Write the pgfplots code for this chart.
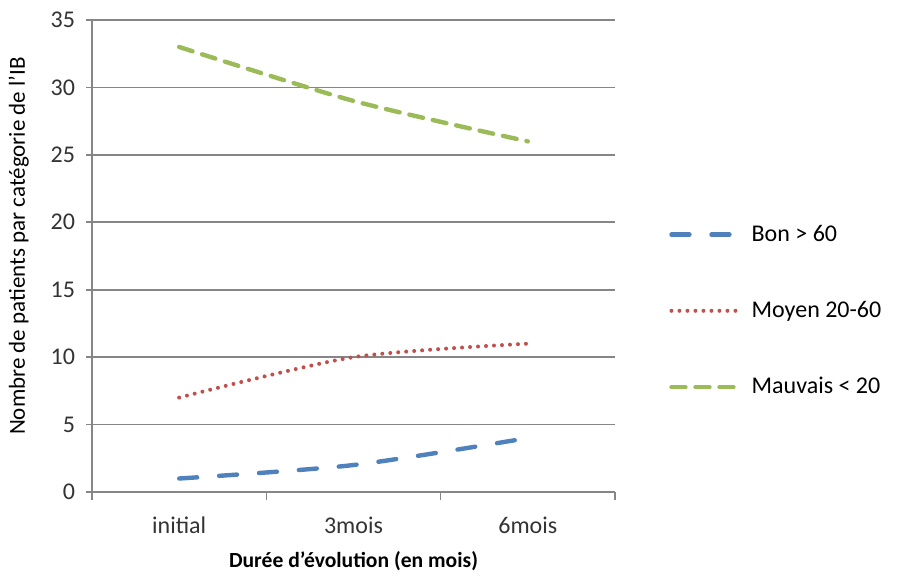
\documentclass[border=0pt]{standalone}
\usepackage{pgfplots}
\pgfplotsset{compat=1.18}
\usepackage{fontspec}
\setmainfont{Carlito}
\definecolor{xlblue}{HTML}{4F81BD}
\definecolor{xlred}{HTML}{C0504D}
\definecolor{xlgreen}{HTML}{9BBB59}
\definecolor{gridc}{HTML}{868686}
\begin{document}
\begin{tikzpicture}
\useasboundingbox (-46pt,-42.5pt) rectangle (402.5pt,246pt);
\begin{axis}[
  at={(0pt,0pt)}, anchor=south west,
  scale only axis, width=261.5pt, height=236pt,
  xmin=-0.5, xmax=2.5, ymin=0, ymax=35,
  xtick={0,1,2}, xticklabels={initial,3mois,6mois},
  minor xtick={-0.5,0.5,1.5,2.5},
  ytick={0,5,...,35},
  major x tick style={draw=none},
  tick align=outside,
  minor tick length=4pt, major tick length=3pt,
  axis x line*=bottom, axis y line*=left,
  axis line style={gridc, line width=0.8pt, -},
  tick style={gridc, line width=0.8pt},
  ymajorgrids, grid style={gridc, line width=0.8pt},
  ticklabel style={font=\fontsize{12}{14}\selectfont, text=black!80},
  /pgf/number format/assume math mode=true,
  xticklabel style={yshift=-6pt},
  yticklabel style={xshift=-2pt},
  xlabel={\textbf{Durée d'évolution (en mois)}},
  xlabel style={font=\fontsize{10.8}{12}\selectfont, yshift=-2pt},
  ylabel={Nombre de patients par catégorie de l'IB},
  ylabel style={font=\fontsize{11.5}{12}\selectfont, yshift=4pt, xshift=5pt},
  legend style={draw=none, fill=none, at={(1.103,0.575)}, anchor=north west,
    font=\fontsize{12}{14}\selectfont, row sep=24.5pt, inner sep=0pt},
  legend cell align=left,
  legend image code/.code={\draw[#1] (0pt,0pt) -- (32pt,0pt); \path (37pt,0pt);},
  every axis plot/.append style={line width=2.2pt, smooth, tension=0.45},
]
\addplot[xlblue, dash pattern=on 9pt off 11pt, line cap=round] coordinates {(0,1) (1,2) (2,4)};
\addlegendentry{Bon > 60}
\addplot[xlred, dash pattern=on 0pt off 4pt, line cap=round, line width=2pt] coordinates {(0,7) (1,10) (2,11)};
\addlegendentry{Moyen 20-60}
\addplot[xlgreen, dash pattern=on 7pt off 5pt, line cap=round] coordinates {(0,33) (1,29) (2,26)};
\addlegendentry{Mauvais < 20}
\end{axis}
\end{tikzpicture}
\end{document}
